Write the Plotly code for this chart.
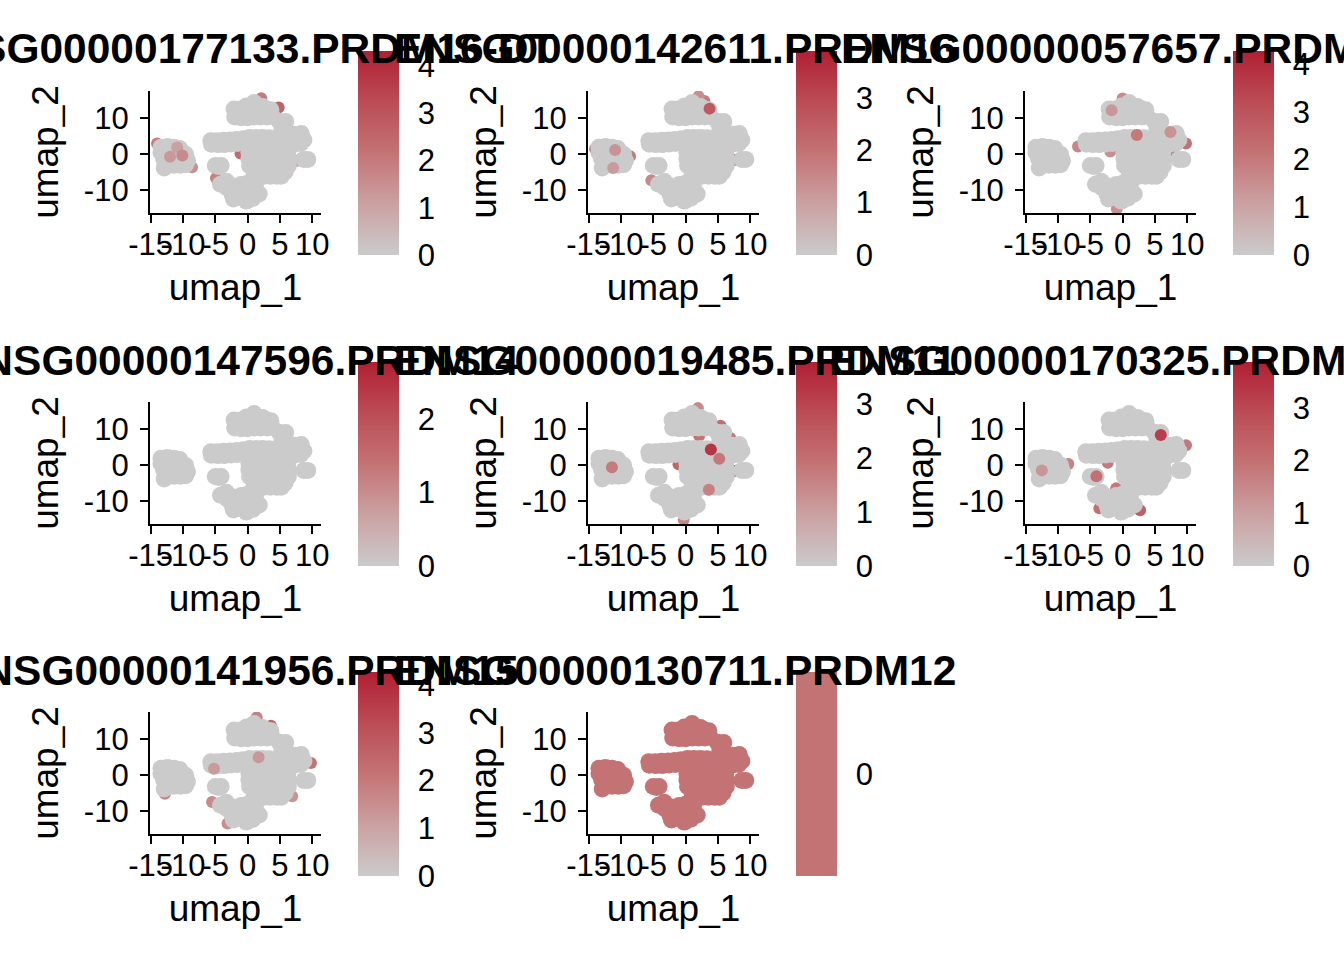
import plotly.graph_objects as go

## Canvas
W, H = 1344, 960

## Gene titles (one panel each)
genes = [
    "ENSG00000177133.PRDM16-DT",
    "ENSG00000142611.PRDM16",
    "ENSG00000057657.PRDM1",
    "ENSG00000147596.PRDM14",
    "ENSG00000019485.PRDM11",
    "ENSG00000170325.PRDM10",
    "ENSG00000141956.PRDM15",
    "ENSG00000130711.PRDM12",
]

## UMAP cell positions, grouped by cluster (umap_1, umap_2)
left_cluster = [(-13.4, 2.0), (-12.4, 2.2), (-11.4, 2.0), (-10.5, 1.6),
                (-13.4, 0.5), (-12.4, 0.5), (-11.4, 0.5), (-10.4, 0.5), (-9.6, 0.0),
                (-13.0, -1.2), (-12.0, -1.2), (-11.0, -1.2), (-10.0, -1.2), (-9.3, -1.7),
                (-12.4, -3.0), (-11.4, -3.0), (-10.4, -3.0), (-9.6, -2.9), (-12.9, -3.8)]
small_cluster = [(-5.0, -3.1), (-4.1, -3.1), (-4.5, -3.4)]
band_cluster = [(-5.7, 3.8), (-4.7, 3.8), (-3.7, 3.9), (-2.7, 4.0), (-1.7, 4.1), (-0.7, 4.3),
                (-5.6, 2.8), (-4.6, 2.7), (-3.6, 2.7), (-2.6, 2.9), (-1.6, 3.0),
                (0.3, 4.7), (1.3, 4.7), (2.3, 4.7), (3.3, 4.6), (4.3, 4.4),
                (5.3, 4.5), (6.3, 5.0), (7.3, 5.6), (8.3, 5.8), (8.7, 4.0), (7.7, 3.6),
                (6.6, 3.2), (8.2, 3.0), (7.2, 2.8), (5.3, 7.0),
                (0.2, 2.2), (1.3, 2.4), (5.0, 2.4), (6.0, 1.9)]
top_cluster = [(-2.1, 12.6), (-1.1, 12.6), (-0.1, 12.6), (0.9, 12.6), (1.9, 12.6), (2.9, 12.6), (3.6, 12.4),
               (-0.2, 13.4), (1.0, 14.4), (2.3, 13.3),
               (-2.0, 10.4), (-1.0, 10.2), (0.0, 10.2), (1.0, 10.4), (2.0, 10.4), (3.0, 10.4), (3.8, 10.6),
               (4.9, 9.2), (5.9, 9.1)]
main_cluster = [(0.2, 0.5), (1.2, 0.5), (2.2, 0.5), (3.2, 0.5), (4.2, 0.5), (5.2, 0.5), (6.2, 0.5),
                (0.2, -1.3), (1.2, -1.3), (2.2, -1.3), (3.2, -1.3), (4.2, -1.3), (5.2, -1.3), (6.3, -1.3),
                (0.3, -3.1), (1.3, -3.1), (2.3, -3.1), (3.3, -3.1), (4.3, -3.1), (5.3, -3.1), (6.3, -3.1),
                (1.0, -4.9), (2.0, -4.9), (3.0, -4.9), (4.0, -4.9), (5.0, -4.9), (5.8, -4.9),
                (2.5, -6.1), (3.5, -6.1), (4.5, -6.1), (5.2, -6.1)]
right_cluster = [(8.7, -1.4), (9.3, -1.4)]
bottom_cluster = [(-4.2, -8.3), (-3.3, -7.5), (-3.2, -9.3), (-2.2, -8.8),
                  (-2.4, -11.1), (-1.4, -10.0), (-1.3, -12.0), (-0.3, -9.6), (-0.3, -11.3),
                  (-0.2, -13.0), (0.8, -10.3), (0.8, -12.2), (1.8, -11.0), (-1.0, -8.4),
                  (0.0, -8.0), (0.9, -6.5), (1.2, -8.6), (-2.2, -12.4)]

## Expressing cells per gene (umap_1, umap_2, expression)
## *_under are drawn below the grey cells, *_over on top
prdm16dt_under = [(-14.0, 3.0, 2.0), (-8.6, -3.6, 1.5), (-1.1, 0.2, 2.4), (7.6, -1.8, 1.8),
                  (4.8, 13.0, 2.6), (2.1, 15.6, 2.0), (-4.9, -6.6, 1.8), (2.5, -2.0, 4.32)]
prdm16dt_over = [(-12.0, -0.7, 1.3), (-10.9, 1.9, 1.1), (-10.1, -0.3, 1.6)]
prdm16_under = [(-14.0, 1.5, 1.8), (-8.6, -0.5, 1.8), (7.6, -1.6, 2.0), (3.4, 2.1, 1.6),
                (-5.3, -7.2, 1.5), (2.9, 14.8, 1.8), (2.0, 16.1, 1.4), (3.0, -3.0, 3.89)]
prdm16_over = [(3.7, 12.7, 2.6), (-10.9, 1.2, 1.3), (-11.2, -3.8, 1.1)]
prdm1_under = [(9.8, 3.0, 2.2), (7.6, 0.9, 1.9), (-6.9, 2.2, 1.7), (-1.9, 0.8, 1.5),
               (0.0, 15.5, 1.6), (-0.9, -15.1, 1.5), (3.0, -2.5, 4.27)]
prdm1_over = [(2.2, 5.35, 2.0), (-1.7, 12.25, 1.3), (7.4, 6.2, 1.4)]
prdm14_under = [(3.0, -2.5, 2.78)]
prdm14_over = []
prdm11_under = [(2.1, 8.2, 1.9), (5.4, 11.0, 2.0), (6.9, 7.6, 1.8), (-1.1, 0.3, 2.2),
                (7.6, -1.6, 2.4), (-0.3, -15.1, 1.5), (1.9, 15.9, 1.4), (3.2, -1.5, 3.78)]
prdm11_over = [(3.9, 4.4, 3.3), (5.2, 1.8, 1.8), (3.6, -6.8, 1.6), (-11.4, -0.5, 1.7)]
prdm10_under = [(-2.3, 0.7, 1.8), (-8.4, 0.4, 1.6), (-1.0, -6.4, 1.8), (-3.6, -11.9, 2.0),
                (2.7, -12.5, 2.4), (9.8, 5.6, 1.8), (3.0, -2.0, 3.87)]
prdm10_over = [(5.9, 8.4, 3.2), (-4.05, -3.0, 2.0), (-12.5, -1.4, 1.2)]
prdm15_under = [(3.6, 13.8, 2.5), (1.4, 16.1, 1.8), (9.8, 3.4, 2.2), (-12.8, -5.1, 1.8),
                (-5.5, -7.4, 1.6), (6.9, -5.8, 1.4), (-3.1, -13.4, 1.5), (3.0, -2.0, 4.27)]
prdm15_over = [(1.7, 5.0, 1.3), (-5.2, 1.8, 1.2)]
prdm12_under = []
prdm12_over = []

## Axis ticks (ggplot prints plain hyphens)
x_ticks = [-15, -10, -5, 0, 5, 10]
y_ticks = [-10, 0, 10]

cells = (left_cluster + small_cluster + band_cluster + top_cluster
         + main_cluster + right_cluster + bottom_cluster)
panels = [
    (genes[0], prdm16dt_under, prdm16dt_over),
    (genes[1], prdm16_under, prdm16_over),
    (genes[2], prdm1_under, prdm1_over),
    (genes[3], prdm14_under, prdm14_over),
    (genes[4], prdm11_under, prdm11_over),
    (genes[5], prdm10_under, prdm10_over),
    (genes[6], prdm15_under, prdm15_over),
    (genes[7], prdm12_under, prdm12_over),
]

## Layout in pixels
col_left = [150, 588, 1025]
row_top = [91, 402, 712]
pw, ph = 171, 122
FONT = "Liberation Sans, Arial, Helvetica, sans-serif"
grey_to_red = [[0, "#CBCBCB"], [0.25, "#CBA1A2"], [0.5, "#C47375"],
               [0.75, "#BB4C55"], [1, "#B11F33"]]
mid_colour = "#C47375"
grey_size, expr_size = 17, 12

fig = go.Figure()
annotations = []

for i, (gene, under, over) in enumerate(panels):
    r, c = divmod(i, 3)
    n = "" if i == 0 else str(i + 1)
    xs = [p[0] for p in under] + [p[0] for p in cells] + [p[0] for p in over]
    ys = [p[1] for p in under] + [p[1] for p in cells] + [p[1] for p in over]
    vs = [p[2] for p in under] + [0] * len(cells) + [p[2] for p in over]
    sizes = [expr_size] * len(under) + [grey_size] * len(cells) + [expr_size] * len(over)
    vmax = max(vs)

    if vmax > 0:
        scale, cmin, cmax = grey_to_red, 0, vmax
        tickvals = list(range(0, int(vmax) + 1))
    else:
        ## constant expression: ggplot puts everything at mid gradient
        scale, cmin, cmax = [[0, mid_colour], [1, mid_colour]], -1, 1
        tickvals = [0]

    fig.add_trace(go.Scatter(
        x=xs, y=ys, mode="markers",
        xaxis="x" + n, yaxis="y" + n,
        hoverinfo="skip", showlegend=False,
        marker=dict(
            size=sizes, color=vs, colorscale=scale, cmin=cmin, cmax=cmax,
            line=dict(width=0), opacity=1,
            colorbar=dict(
                x=(col_left[c] + 208) / W, xanchor="left", xpad=0,
                y=1 - (row_top[r] - 40) / H, yanchor="top", ypad=0,
                lenmode="pixels", len=204, thicknessmode="pixels", thickness=41,
                outlinewidth=0, tickvals=tickvals,
                ticks="outside", ticklen=13, tickcolor="rgba(0,0,0,0)",
                tickfont=dict(size=31, color="black", family=FONT),
            ),
        ),
    ))

    axis_common = dict(showline=True, linewidth=2.3, linecolor="black",
                       ticks="outside", ticklen=8, tickwidth=2.3, tickcolor="black",
                       showgrid=False, zeroline=False, automargin=False, tickangle=0,
                       tickfont=dict(size=31, color="black", family=FONT))
    fig.layout["xaxis" + n] = dict(
        domain=[col_left[c] / W, (col_left[c] + pw) / W],
        range=[-15.1, 11.35], tickmode="array", tickvals=x_ticks,
        ticktext=[str(t) for t in x_ticks], anchor="y" + n, ticklabelstandoff=-5,
        title=dict(text="umap_1", font=dict(size=37, color="black", family=FONT), standoff=13),
        **axis_common)
    fig.layout["yaxis" + n] = dict(
        domain=[1 - (row_top[r] + ph) / H, 1 - row_top[r] / H],
        range=[-16.3, 17.6], tickmode="array", tickvals=y_ticks,
        ticktext=[str(t) for t in y_ticks], anchor="x" + n, ticklabelstandoff=5,
        title=dict(text="umap_2", font=dict(size=37, color="black", family=FONT), standoff=14),
        **axis_common)

    annotations.append(dict(
        text="<b>" + gene + "</b>", xref="paper", yref="paper",
        x=(col_left[c] + pw / 2 + 1) / W, y=1 - (row_top[r] - 42) / H,
        xanchor="center", yanchor="middle", showarrow=False,
        font=dict(size=42.5, color="black", family=FONT)))

fig.update_layout(
    width=W, height=H,
    margin=dict(l=0, r=0, t=0, b=0, autoexpand=False),
    paper_bgcolor="white", plot_bgcolor="white",
    annotations=annotations,
    font=dict(family=FONT, color="black"),
)

## drop the browser's default page margin so the figure sits at (0, 0)
fig.write_html("out.html", config={"displayModeBar": False},
               post_script="document.body.style.margin='0';")
